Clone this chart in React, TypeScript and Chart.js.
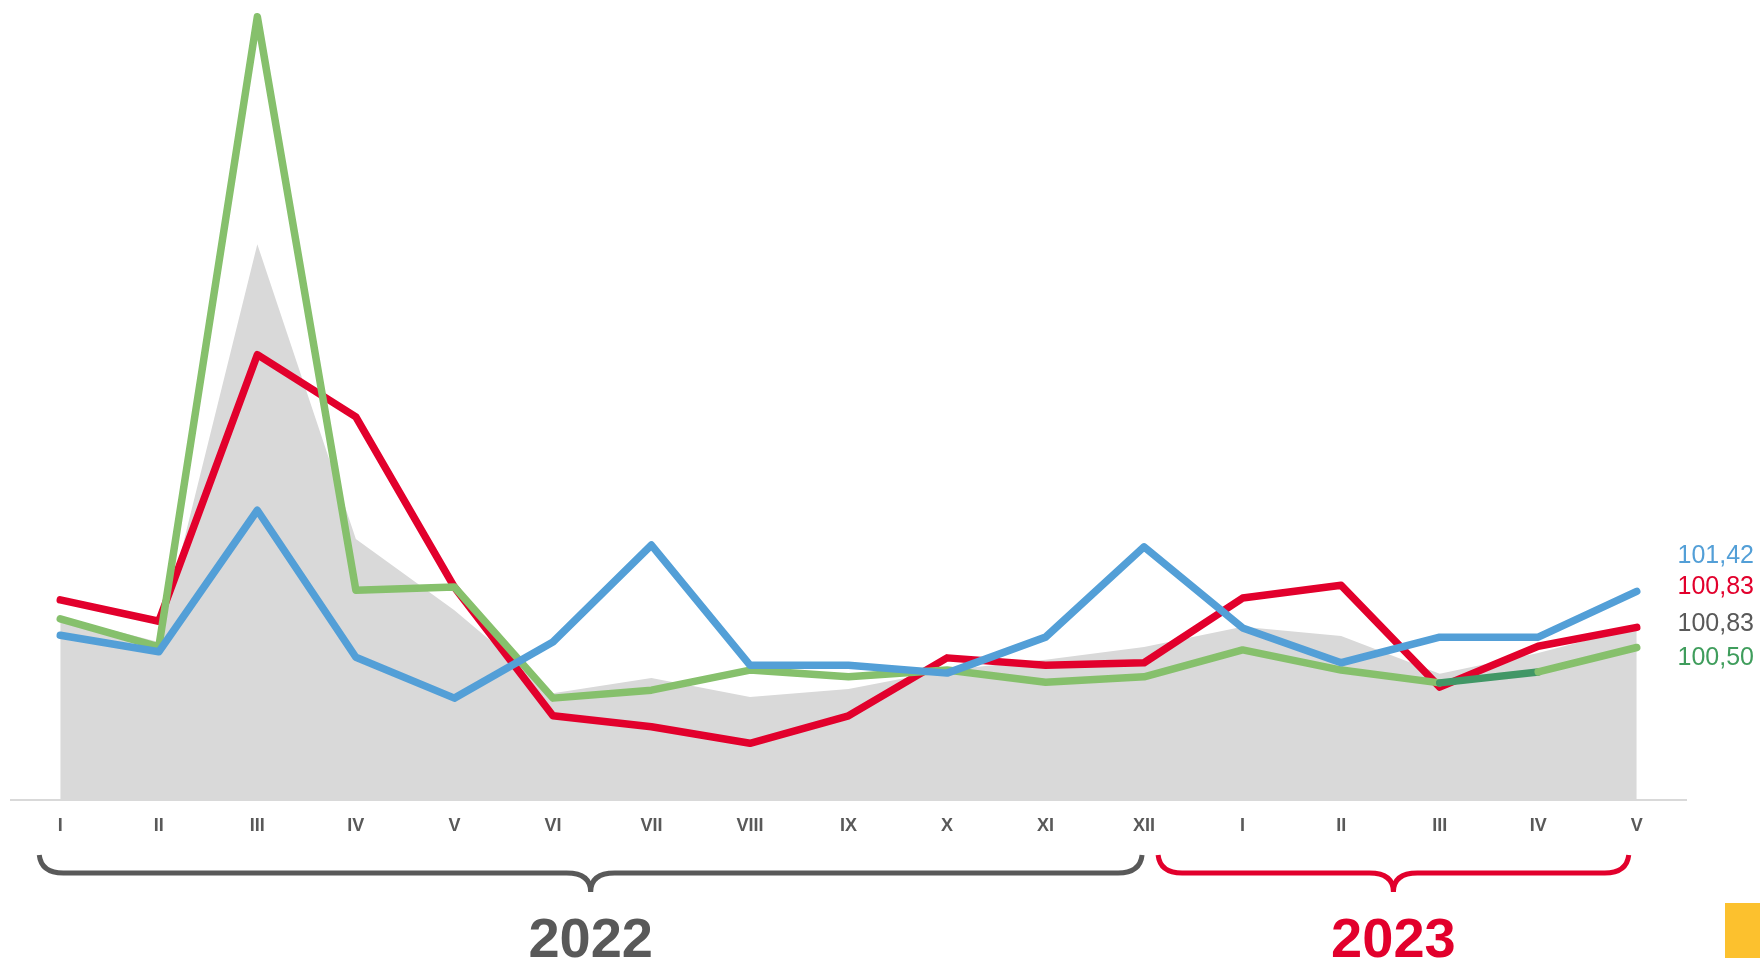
import React, { useEffect, useRef } from "react";
import { Chart, registerables } from "chart.js";

Chart.register(...registerables);

const months = ["I", "II", "III", "IV", "V", "VI", "VII", "VIII", "IX", "X", "XI", "XII", "I", "II", "III", "IV", "V"];
const blueSeries = [100.7, 100.43, 102.75, 100.34, 99.67, 100.59, 102.18, 100.21, 100.21, 100.08, 100.67, 102.15, 100.82, 100.25, 100.67, 100.67, 101.42];
const redSeries = [101.28, 100.93, 105.3, 104.28, 101.49, 99.38, 99.2, 98.93, 99.38, 100.33, 100.21, 100.25, 101.31, 101.52, 99.85, 100.52, 100.83];
const greenSeries = [100.97, 100.51, 110.84, 101.44, 101.49, 99.67, 99.8, 100.13, 100.02, 100.13, 99.93, 100.02, 100.46, 100.13, 99.92, 100.1, 100.5];
const graySeries = [101.0, 100.59, 107.11, 102.28, 101.11, 99.75, 100.0, 99.69, 99.82, 100.13, 100.3, 100.51, 100.84, 100.69, 100.07, 100.41, 100.83];
const years = ["2022", "2023"];

const BLUE = "#539FD7";
const RED = "#E2002C";
const GREEN = "#86C06C";
const DARK_GREEN = "#419766";
const GRAY_FILL = "#D9D9D9";
const TEXT_GRAY = "#595959";
const GREEN_TEXT = "#3F9D5C";

const fmt = (v: number) => v.toFixed(2).replace(".", ",");

const overlayPlugin = {
  id: "overlay",
  afterDraw(chart: any) {
    const ctx = chart.ctx as CanvasRenderingContext2D;
    const xs = chart.scales.x;
    const ys = chart.scales.y;
    const W = chart.width;
    ctx.save();

    // end value labels
    const labels = [
      { data: blueSeries, color: BLUE, dy: -35 },
      { data: redSeries, color: RED, dy: -40 },
      { data: graySeries, color: TEXT_GRAY, dy: -3 },
      { data: greenSeries, color: GREEN_TEXT, dy: 11 },
    ];
    ctx.font = "25px 'Liberation Sans', Arial, sans-serif";
    ctx.textAlign = "right";
    ctx.textBaseline = "middle";
    labels.forEach((l) => {
      const v = l.data[l.data.length - 1];
      ctx.fillStyle = l.color;
      ctx.fillText(fmt(v), W - 6, ys.getPixelForValue(v) + l.dy);
    });

    // braces
    const drawBrace = (x0: number, x1: number, color: string, width: number) => {
      const yTop = 855;
      const yBar = 873;
      const yTip = 892;
      const r = 24;
      const xm = (x0 + x1) / 2;
      ctx.strokeStyle = color;
      ctx.lineWidth = width;
      ctx.lineCap = "butt";
      ctx.beginPath();
      ctx.moveTo(x0, yTop);
      ctx.quadraticCurveTo(x0 + 2, yBar, x0 + r, yBar);
      ctx.lineTo(xm - r, yBar);
      ctx.quadraticCurveTo(xm, yBar, xm, yTip);
      ctx.moveTo(x1, yTop);
      ctx.quadraticCurveTo(x1 - 2, yBar, x1 - r, yBar);
      ctx.lineTo(xm + r, yBar);
      ctx.quadraticCurveTo(xm, yBar, xm, yTip);
      ctx.stroke();
      return xm;
    };
    const m1 = drawBrace(xs.getPixelForValue(0) - 21, xs.getPixelForValue(11) - 2, TEXT_GRAY, 5);
    const m2 = drawBrace(xs.getPixelForValue(11) + 14, xs.getPixelForValue(16) - 8, RED, 5);

    ctx.font = "bold 56px 'Liberation Sans', Arial, sans-serif";
    ctx.textAlign = "center";
    ctx.textBaseline = "alphabetic";
    ctx.fillStyle = TEXT_GRAY;
    ctx.fillText(years[0], m1, 957);
    ctx.fillStyle = RED;
    ctx.fillText(years[1], m2, 957);

    ctx.restore();
  },
};

export default function App() {
  const ref = useRef<HTMLCanvasElement | null>(null);

  useEffect(() => {
    if (!ref.current) return;
    const lineBase = {
      borderWidth: 7.5,
      pointRadius: 0,
      pointHoverRadius: 0,
      fill: false,
      tension: 0,
      borderCapStyle: "round" as const,
      borderJoinStyle: "round" as const,
    };
    const chart = new Chart(ref.current, {
      type: "line",
      data: {
        labels: months,
        datasets: [
          { ...lineBase, label: "blue", data: blueSeries, borderColor: BLUE },
          {
            ...lineBase,
            label: "green",
            data: greenSeries,
            borderColor: GREEN,
            segment: {
              borderColor: (c: any) => (c.p0DataIndex === 14 ? DARK_GREEN : undefined),
            },
          },
          { ...lineBase, label: "red", data: redSeries, borderColor: RED },
          {
            label: "gray",
            data: graySeries,
            borderWidth: 0,
            borderColor: "rgba(0,0,0,0)",
            backgroundColor: GRAY_FILL,
            pointRadius: 0,
            fill: "start",
            tension: 0,
          },
        ],
      },
      options: {
        animation: false,
        responsive: true,
        maintainAspectRatio: false,
        layout: { padding: { left: 11, right: 74, top: 7, bottom: 0 } },
        plugins: { legend: { display: false }, tooltip: { enabled: false } },
        events: [],
        scales: {
          x: {
            type: "category",
            offset: true,
            grid: { display: false, drawTicks: false },
            border: { display: true, color: GRAY_FILL, width: 2 },
            ticks: {
              color: TEXT_GRAY,
              font: { family: "'Liberation Sans', Arial, sans-serif", size: 18, weight: "bold" },
              padding: 15,
              autoSkip: false,
              maxRotation: 0,
            },
            afterFit: (s: any) => {
              s.height = 158;
            },
          },
          y: {
            display: false,
            min: 98,
            max: 111,
          },
        },
      },
      plugins: [overlayPlugin],
    });
    return () => chart.destroy();
  }, []);

  return (
    <div style={{ position: "absolute", left: 0, top: 0, width: 1760, height: 958, background: "#fff" }}>
      <canvas ref={ref} />
      <div
        style={{
          position: "absolute",
          left: 1725,
          top: 903,
          width: 35,
          height: 55,
          background: "#FCC12E",
        }}
      />
    </div>
  );
}
